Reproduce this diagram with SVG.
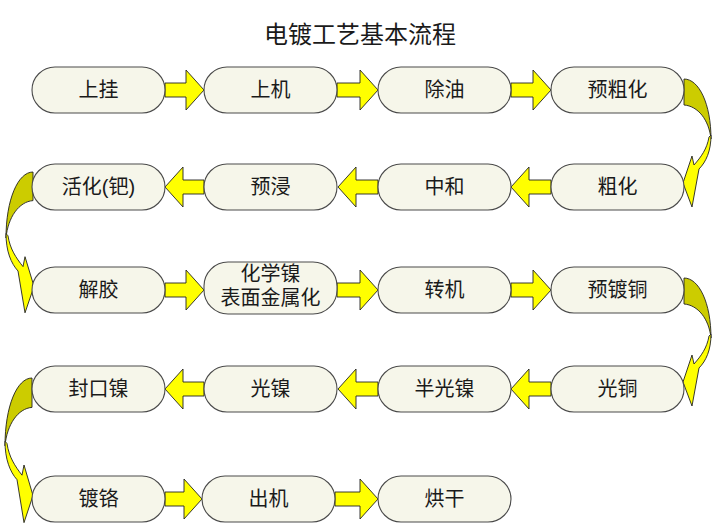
<svg xmlns="http://www.w3.org/2000/svg" xmlns:xlink="http://www.w3.org/1999/xlink" width="716" height="530" viewBox="0 0 716 530">
<style>
.node rect{fill:#F6F6EA;stroke:#4a4a4a;stroke-width:1.1}
.node text,.title{font-family:"Liberation Sans","Noto Sans CJK SC","Noto Sans CJK JP",sans-serif;fill:#1a1a1a;text-anchor:middle}
.node text{font-size:20px}
.title{font-size:24px}
.arr{fill:#FFFF00;stroke:#222;stroke-width:0.9;stroke-linejoin:miter}
.back{fill:#CCCC00;stroke:#222;stroke-width:0.9;vector-effect:non-scaling-stroke}
.front{fill:#FFFF00;stroke:#222;stroke-width:0.9;vector-effect:non-scaling-stroke}
</style>
<defs>
<g id="curve">
<path class="back" d="M0,0 C15,0 27,25 27,60 C25,41 14,27 0,26 Z"/>
<path class="front" d="M27,56 C27,72 22,83 15,90 L8,128 L-1,104 L8,77 L10,86 C17,78 23,70 25,58 Z"/>
</g>
</defs>
<rect width="716" height="530" fill="#ffffff"/>
<text class="title" x="360" y="43">电镀工艺基本流程</text>

<g id="connectors">
<!-- row 1 right-pointing -->
<path class="arr" d="M165,83 L186,83 L186,70 L204,90 L186,110 L186,97 L165,97 Z"/>
<path class="arr" d="M337,83 L360,83 L360,70 L378,90 L360,110 L360,97 L337,97 Z"/>
<path class="arr" d="M511,83 L533,83 L533,70 L551,90 L533,110 L533,97 L511,97 Z"/>
<!-- row 2 left-pointing -->
<path class="arr" d="M551,180 L529,180 L529,167 L511,187 L529,207 L529,194 L551,194 Z"/>
<path class="arr" d="M378,180 L356,180 L356,167 L338,187 L356,207 L356,194 L378,194 Z"/>
<path class="arr" d="M204,180 L183,180 L183,167 L165,187 L183,207 L183,194 L204,194 Z"/>
<!-- row 3 right-pointing -->
<path class="arr" d="M165,283 L186,283 L186,270 L204,290 L186,310 L186,297 L165,297 Z"/>
<path class="arr" d="M337,283 L360,283 L360,270 L378,290 L360,310 L360,297 L337,297 Z"/>
<path class="arr" d="M511,283 L533,283 L533,270 L551,290 L533,310 L533,297 L511,297 Z"/>
<!-- row 4 left-pointing -->
<path class="arr" d="M551,382 L529,382 L529,369 L511,389 L529,409 L529,396 L551,396 Z"/>
<path class="arr" d="M378,382 L356,382 L356,369 L338,389 L356,409 L356,396 L378,396 Z"/>
<path class="arr" d="M204,382 L183,382 L183,369 L165,389 L183,409 L183,396 L204,396 Z"/>
<!-- row 5 right-pointing -->
<path class="arr" d="M165,492 L184,492 L184,479 L202,499 L184,519 L184,506 L165,506 Z"/>
<path class="arr" d="M335,492 L360,492 L360,479 L378,499 L360,519 L360,506 L335,506 Z"/>
<!-- curved connectors -->
<use xlink:href="#curve" href="#curve" transform="translate(684,79)"/>
<use xlink:href="#curve" href="#curve" transform="translate(33,172) scale(-1,1.1)"/>
<use xlink:href="#curve" href="#curve" transform="translate(684,278)"/>
<use xlink:href="#curve" href="#curve" transform="translate(32,378) scale(-1,1.13)"/>
</g>

<!-- row 1 -->
<g id="n1" class="node"><rect x="32" y="67" width="133" height="46" rx="23"/><text x="98.5" y="97">上挂</text></g>
<g id="n2" class="node"><rect x="204" y="67" width="133" height="46" rx="23"/><text x="270.5" y="97">上机</text></g>
<g id="n3" class="node"><rect x="378" y="67" width="133" height="46" rx="23"/><text x="444.5" y="97">除油</text></g>
<g id="n4" class="node"><rect x="551" y="67" width="133" height="46" rx="23"/><text x="617.5" y="97">预粗化</text></g>
<!-- row 2 -->
<g id="n5" class="node"><rect x="551" y="164" width="133" height="46" rx="23"/><text x="617.5" y="194">粗化</text></g>
<g id="n6" class="node"><rect x="378" y="164" width="133" height="46" rx="23"/><text x="444.5" y="194">中和</text></g>
<g id="n7" class="node"><rect x="204" y="164" width="133" height="46" rx="23"/><text x="270.5" y="194">预浸</text></g>
<g id="n8" class="node"><rect x="32" y="164" width="133" height="46" rx="23"/><text x="98.5" y="194">活化(钯)</text></g>
<!-- row 3 -->
<g id="n9" class="node"><rect x="32" y="267" width="133" height="46" rx="23"/><text x="98.5" y="297">解胶</text></g>
<g id="n10" class="node"><rect x="204" y="262" width="133" height="52" rx="24"/><text x="270.5" y="281">化学镍</text><text x="270.5" y="305">表面金属化</text></g>
<g id="n11" class="node"><rect x="378" y="267" width="133" height="46" rx="23"/><text x="444.5" y="297">转机</text></g>
<g id="n12" class="node"><rect x="551" y="267" width="133" height="46" rx="23"/><text x="617.5" y="297">预镀铜</text></g>
<!-- row 4 -->
<g id="n13" class="node"><rect x="551" y="366" width="133" height="46" rx="23"/><text x="617.5" y="396">光铜</text></g>
<g id="n14" class="node"><rect x="378" y="366" width="133" height="46" rx="23"/><text x="444.5" y="396">半光镍</text></g>
<g id="n15" class="node"><rect x="204" y="366" width="133" height="46" rx="23"/><text x="270.5" y="396">光镍</text></g>
<g id="n16" class="node"><rect x="32" y="366" width="133" height="46" rx="23"/><text x="98.5" y="396">封口镍</text></g>
<!-- row 5 -->
<g id="n17" class="node"><rect x="32" y="476" width="133" height="46" rx="23"/><text x="98.5" y="506">镀铬</text></g>
<g id="n18" class="node"><rect x="202" y="476" width="133" height="46" rx="23"/><text x="268.5" y="506">出机</text></g>
<g id="n19" class="node"><rect x="378" y="476" width="133" height="46" rx="23"/><text x="444.5" y="506">烘干</text></g>
</svg>
